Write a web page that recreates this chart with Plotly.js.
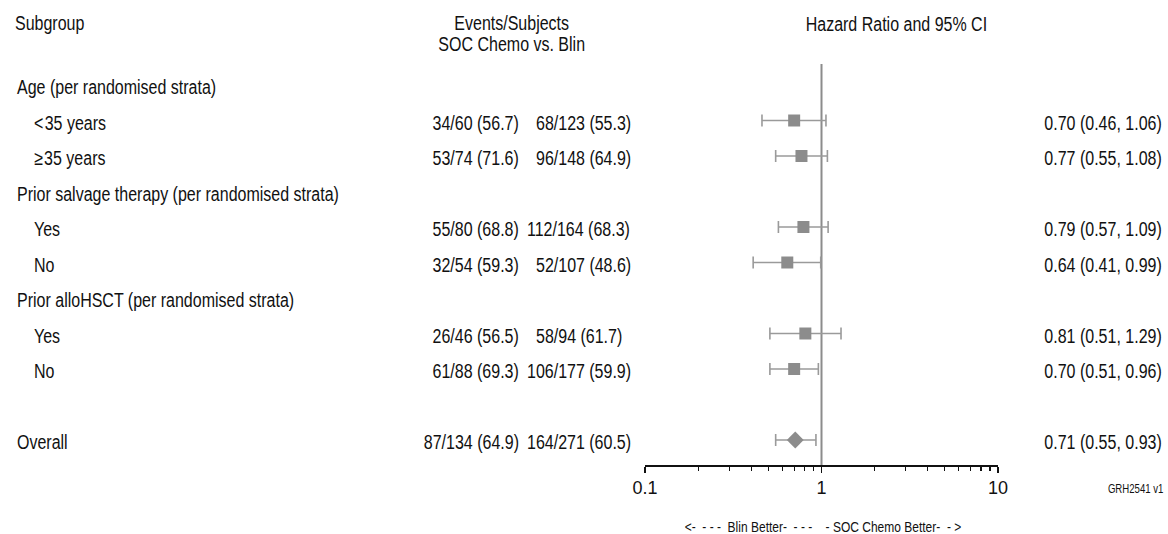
<!DOCTYPE html>
<html>
<head>
<meta charset="utf-8">
<script src="https://cdn.plot.ly/plotly-3.0.1.min.js"></script>
<style>html,body{margin:0;padding:0;background:#fff;}#chart{width:1168px;height:534px;}</style>
</head>
<body>
<div id="chart"></div>
<script>
// ---- data ----
const rowLabels = ["Age (per randomised strata)", "&lt;\u200a35 years", "\u2265\u200a35 years",
  "Prior salvage therapy (per randomised strata)", "Yes", "No",
  "Prior alloHSCT (per randomised strata)", "Yes", "No", "Overall"];
const rowIsHeader = [true, false, false, true, false, false, true, false, false, true];
const rowPos = [0, 1, 2, 3, 4, 5, 6, 7, 8, 10];

const estRows = [1, 2, 4, 5, 7, 8, 10];
const socEvents = ["34/60 (56.7)", "53/74 (71.6)", "55/80 (68.8)", "32/54 (59.3)", "26/46 (56.5)", "61/88 (69.3)", "87/134 (64.9)"];
const blinEvents = ["68/123 (55.3)", "96/148 (64.9)", "112/164 (68.3)", "52/107 (48.6)", "58/94 (61.7)", "106/177 (59.9)", "164/271 (60.5)"];
const hr = [0.70, 0.77, 0.79, 0.64, 0.81, 0.70, 0.71];
const ciLow = [0.46, 0.55, 0.57, 0.41, 0.51, 0.51, 0.55];
const ciHigh = [1.06, 1.08, 1.09, 0.99, 1.29, 0.96, 0.93];
const isOverall = [false, false, false, false, false, false, true];

const tickVals = [0.1, 1, 10];
const tickText = ["0.1", "1", "10"];
const minorVals = [0.2,0.3,0.4,0.5,0.6,0.7,0.8,0.9,2,3,4,5,6,7,8,9];

// ---- layout helpers ----
const W = 1168, H = 534;
const FONT = '"Liberation Sans", Arial, Helvetica, sans-serif';
const TXT = '#111';
const FS = 20;
const NARROW = 0.80;           // horizontal condensing of the Helvetica-like face
const rowTop = 85, rowStep = 35.5, axisPx = 465;
const yOf = p => (p - rowTop) / rowStep;      // pixel -> row units
const px = p => p / W;
const py = p => (H - p) / H;

const sub = estRows.map((r, i) => i).filter(i => !isOverall[i]);
const ovr = estRows.map((r, i) => i).filter(i => isOverall[i]);
function trace(idx, symbol, size) {
  return {
    type: 'scatter', mode: 'markers', hoverinfo: 'skip', showlegend: false,
    x: idx.map(i => hr[i]), y: idx.map(i => estRows[i]),
    marker: {symbol: symbol, size: size, color: '#8c8c8c'},
    error_x: {type: 'data', symmetric: false,
      array: idx.map(i => ciHigh[i] - hr[i]), arrayminus: idx.map(i => hr[i] - ciLow[i]),
      color: '#9a9a9a', thickness: 1.6, width: 6}
  };
}
const data = [trace(sub, 'square', 12), trace(ovr, 'diamond', 13)];

const ann = [];
function A(o) { ann.push(Object.assign({showarrow: false, font: {family: FONT, size: FS, color: TXT}}, o)); }
const TS = 2; // text sits slightly below the marker centre in the reference
// headers
A({text: 'Subgroup', xref: 'paper', x: px(13), xanchor: 'left', yref: 'paper', y: py(23), yanchor: 'middle'});
A({text: 'Events/Subjects', xref: 'paper', x: px(511), xanchor: 'center', yref: 'paper', y: py(23), yanchor: 'middle'});
A({text: 'SOC Chemo vs. Blin', xref: 'paper', x: px(511), xanchor: 'center', yref: 'paper', y: py(44), yanchor: 'middle'});
A({text: 'Hazard Ratio and 95% CI', xref: 'paper', x: px(896), xanchor: 'center', yref: 'paper', y: py(24), yanchor: 'middle'});
// row labels
rowLabels.forEach((t, i) => A({text: t, xref: 'paper', x: px(rowIsHeader[i] ? 15 : 32), xanchor: 'left',
  yref: 'y', y: rowPos[i], yanchor: 'middle', yshift: -TS}));
// events and HR text
const DIGIT = 9; // width of one figure, for the padded Blin column
estRows.forEach((r, i) => {
  A({text: socEvents[i], xref: 'paper', x: px(521), xanchor: 'right', yref: 'y', y: r, yanchor: 'middle', yshift: -TS});
  const num = blinEvents[i].split('/')[0];
  A({text: blinEvents[i], xref: 'paper', x: px(525), xanchor: 'left', yref: 'y', y: r, yanchor: 'middle', yshift: -TS,
     xshift: (3 - num.length) * DIGIT});
  A({text: hr[i].toFixed(2) + ' (' + ciLow[i].toFixed(2) + ', ' + ciHigh[i].toFixed(2) + ')',
     xref: 'paper', x: px(1164), xanchor: 'right', yref: 'y', y: r, yanchor: 'middle', yshift: -TS});
});
A({text: 'GRH2541 v1', xref: 'paper', x: px(1166), xanchor: 'right', yref: 'paper', y: py(489), yanchor: 'middle',
   font: {family: FONT, size: 12, color: TXT}});
A({text: '&lt;-\u00a0\u00a0-\u00a0-\u00a0-\u00a0\u00a0Blin Better-\u00a0\u00a0-\u00a0-\u00a0-\u00a0\u00a0\u00a0\u00a0-\u00a0SOC Chemo Better-\u00a0\u00a0-\u00a0&gt;',
   xref: 'paper', x: px(823), xanchor: 'center', yref: 'paper', y: py(526), yanchor: 'middle',
   font: {family: FONT, size: 15, color: TXT}});

const layout = {
  width: W, height: H, margin: {l: 0, r: 0, t: 0, b: 0}, paper_bgcolor: '#fff', plot_bgcolor: '#fff',
  showlegend: false,
  xaxis: {type: 'log', domain: [px(645), px(998)], range: [-1, 1], showgrid: false, zeroline: false,
    showline: true, linecolor: '#111', linewidth: 1.5, ticks: 'outside', ticklen: 6, tickwidth: 1.5, tickcolor: '#111',
    tickmode: 'array', tickvals: tickVals, ticktext: tickText,
    tickfont: {family: FONT, size: 18, color: TXT},
    minor: {tickmode: 'array', tickvals: minorVals, ticks: 'outside', ticklen: 4, tickwidth: 1.2, tickcolor: '#111', showgrid: false},
    fixedrange: true},
  yaxis: {domain: [py(axisPx), 1], range: [yOf(axisPx), yOf(0)], visible: false, fixedrange: true},
  shapes: [{type: 'line', xref: 'x', x0: 1, x1: 1, yref: 'y', y0: yOf(64), y1: yOf(axisPx),
    line: {color: '#8c8c8c', width: 2}, layer: 'below'}],
  annotations: ann
};

function condense(el, origin) {
  el.style.transformBox = 'fill-box';
  el.style.transformOrigin = origin + ' center';
  el.style.transform = 'scaleX(' + NARROW + ')';
}
Plotly.newPlot('chart', data, layout, {displayModeBar: false, staticPlot: true}).then(gd => {
  gd.querySelectorAll('g.annotation').forEach(g => {
    const i = +g.getAttribute('data-index');
    const a = ann[i];
    const t = g.querySelector('text.annotation-text');
    if (t) condense(t, a.xanchor === 'left' ? 'left' : a.xanchor === 'right' ? 'right' : 'center');
  });
});
</script>
</body>
</html>
